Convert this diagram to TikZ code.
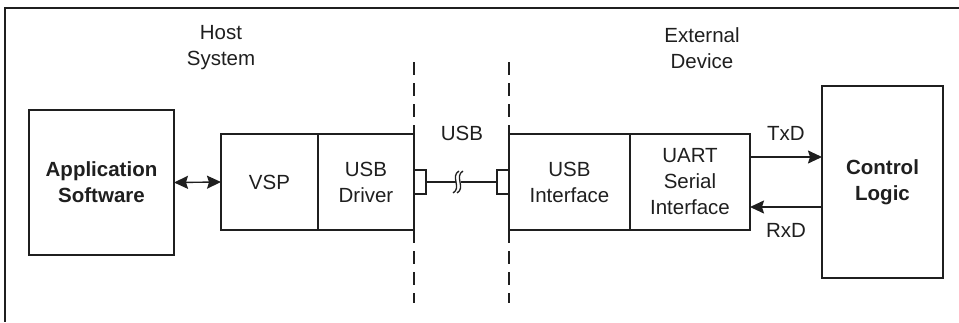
\documentclass[tikz,border=0pt]{standalone}
\usepackage{fontspec}
\setmainfont{Liberation Sans}
\usetikzlibrary{arrows.meta}
\definecolor{ink}{gray}{0.12}
\begin{document}
\begin{tikzpicture}[x=1pt,y=-1pt,
  every node/.style={text=ink, font=\fontsize{20.5}{26}\selectfont},
  blk/.style={draw=ink, line width=2.2pt, rectangle, inner sep=0pt, outer sep=0pt, align=center},
  outer/.style={draw=ink, line width=1.6pt, rectangle, inner sep=0pt, outer sep=0pt, align=center, font=\fontsize{20.5}{26}\selectfont\bfseries},
  plug/.style={draw=ink, line width=1.3pt, rectangle, inner sep=0pt, outer sep=0pt, minimum width=12pt, minimum height=24pt},
  lbl/.style={align=center, inner sep=0pt},
  sep/.style={draw=ink, line width=1.4pt, dash pattern=on 13pt off 8pt},
  wire/.style={draw=ink, line width=1.4pt},
  tip/.tip={Stealth[length=14pt,width=13pt,inset=2pt]},
  arr/.style={wire, -tip},
  darr/.style={wire, tip-tip}
]
\useasboundingbox (0,0) rectangle (959,322);
% frame (top and left edges)
\draw[ink, line width=1.2pt] (959,8) -- (5,8) -- (5,322);

% blocks
\node[outer, minimum width=145pt, minimum height=145pt] (app) at (101.5,182.5) {Application\\Software};
\node[blk, minimum width=97pt, minimum height=96pt] (vsp) at (269.5,182) {VSP};
\node[blk, minimum width=96pt, minimum height=96pt] (drv) at (366,182) {USB\\Driver};
\node[blk, minimum width=121pt, minimum height=96pt] (usbif) at (569.5,182) {USB\\Interface};
\node[blk, minimum width=120pt, minimum height=96pt] (uart) at (690,182) {UART\\Serial\\Interface};
\node[outer, minimum width=121pt, minimum height=192pt] (ctrl) at (882.5,182) {Control\\Logic};

% plugs
\node[plug] (pl) at (420,182) {};
\node[plug] (pr) at (503,182) {};

% dashed separators
\coordinate (s1t) at (414,62); \coordinate (s1b) at (414,303);
\coordinate (s2t) at (509,62); \coordinate (s2b) at (509,303);
\draw[sep] (s1t) -- (s1b);
\draw[sep] (s2t) -- (s2b);

% labels
\node[lbl] (host) at (221,48) {Host\\System};
\node[lbl] (ext) at (702,48) {External\\Device};
\node[lbl] (usb) at (462,133) {USB};
\node[lbl] (txd) at (786,133) {TxD};
\node[lbl] (rxd) at (786,230) {RxD};

% USB cable with break
\coordinate (bL) at (456,182);
\coordinate (bR) at (461,182);
\draw[wire] (pl.east) -- (bL);
\draw[wire] (bR) -- (pr.west);
\draw[ink, line width=1.3pt] (453,193) .. controls (462,188) and (450,176) .. (459,171);
\draw[ink, line width=1.3pt] (457,193) .. controls (466,188) and (454,176) .. (463,171);

% arrows
\draw[darr] (app.east) -- (vsp.west);
\draw[arr] (uart.east |- 0,157) -- (ctrl.west |- 0,157);
\draw[arr] (ctrl.west |- 0,207) -- (uart.east |- 0,207);
\end{tikzpicture}
\end{document}
